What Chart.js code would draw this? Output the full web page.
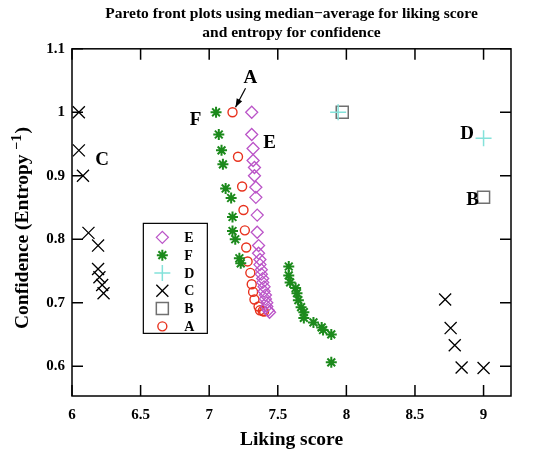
<!DOCTYPE html>
<html>
<head>
<meta charset="utf-8">
<script src="https://cdn.jsdelivr.net/npm/chart.js@4/dist/chart.umd.min.js"></script>
<style>
  html, body { margin: 0; padding: 0; background: #fff; }
  #wrap { width: 542px; height: 457px; }
</style>
</head>
<body>
<div id="wrap"><canvas id="myChart" width="542" height="457"></canvas></div>
<script>
// pareto fronts, x = liking score, y = confidence (1/entropy)
var seriesE = [[7.31,1.0],[7.31,0.965],[7.32,0.943],[7.32,0.924],[7.33,0.913],[7.33,0.90],[7.34,0.882],[7.34,0.866],
    [7.35,0.838],[7.35,0.811],[7.36,0.79],[7.36,0.778],[7.37,0.768],[7.37,0.76],[7.38,0.752],[7.38,0.745],[7.39,0.738],
    [7.39,0.732],[7.40,0.725],[7.40,0.718],[7.41,0.712],[7.41,0.706],[7.42,0.70],[7.42,0.694],[7.43,0.688],[7.44,0.685]];
var seriesF = [[7.05,1.0],[7.07,0.965],[7.09,0.94],[7.10,0.918],[7.12,0.88],[7.16,0.865],[7.17,0.835],[7.17,0.813],
    [7.19,0.80],[7.22,0.77],[7.23,0.762],[7.58,0.757],[7.58,0.743],[7.59,0.732],[7.63,0.723],[7.64,0.715],[7.65,0.704],
    [7.67,0.693],[7.69,0.685],[7.69,0.676],[7.76,0.669],[7.82,0.661],[7.83,0.657],[7.89,0.65],[7.89,0.606]];
var seriesD = [[7.94,1.0],[9.0,0.959]];
var seriesC = [[6.05,1.0],[6.05,0.94],[6.08,0.90],[6.12,0.81],[6.19,0.79],[6.19,0.753],[6.20,0.74],[6.22,0.728],[6.23,0.715],
    [8.72,0.705],[8.76,0.66],[8.79,0.633],[8.84,0.598],[9.0,0.597]];
var seriesB = [[7.97,1.0],[9.0,0.866]];
var seriesA = [[7.17,1.0],[7.21,0.93],[7.24,0.883],[7.25,0.846],[7.26,0.814],[7.27,0.787],[7.28,0.765],[7.30,0.747],
    [7.31,0.729],[7.32,0.717],[7.33,0.705],[7.36,0.694],[7.37,0.688],[7.39,0.687],[7.40,0.686]];

var xTicks = [6, 6.5, 7, 7.5, 8, 8.5, 9];
var yTicks = [0.6, 0.7, 0.8, 0.9, 1.0, 1.1];

// text labels next to each front, [text, x, y]
var frontLabels = [['F', 6.90, 0.987], ['E', 7.44, 0.951], ['C', 6.22, 0.924], ['D', 8.88, 0.965], ['B', 8.92, 0.861], ['A', 7.30, 1.054]];

var serif = "'Liberation Serif', 'DejaVu Serif', serif";

function toPts(arr) {
    return arr.map(function (p) { return { x: p[0], y: p[1] }; });
}

var datasets = [
    { label: 'E', data: toPts(seriesE), pointStyle: 'rectRot', radius: 6, borderColor: '#bb55c8', borderWidth: 1.3 },
    { label: 'F', data: toPts(seriesF), pointStyle: 'star', radius: 5.5, borderColor: '#1c8a1c', borderWidth: 2 },
    { label: 'D', data: toPts(seriesD), pointStyle: 'cross', radius: 8, borderColor: '#84e2da', borderWidth: 1.5 },
    { label: 'C', data: toPts(seriesC), pointStyle: 'crossRot', radius: 8.5, borderColor: '#000000', borderWidth: 1.3 },
    { label: 'B', data: toPts(seriesB), pointStyle: 'rect', radius: 8.5, borderColor: '#707070', borderWidth: 1.5 },
    { label: 'A', data: toPts(seriesA), pointStyle: 'circle', radius: 4.5, borderColor: '#e8321e', borderWidth: 1.4 }
];
datasets.forEach(function (d) {
    d.backgroundColor = 'rgba(0,0,0,0)';
    d.pointRadius = d.radius;
    d.pointHoverRadius = d.radius;
    d.showLine = false;
});

function drawMarker(ctx, ds, x, y) {
    ctx.save();
    ctx.strokeStyle = ds.borderColor;
    ctx.fillStyle = 'rgba(0,0,0,0)';
    ctx.lineWidth = ds.borderWidth;
    Chart.helpers.drawPoint(ctx, { pointStyle: ds.pointStyle, radius: ds.radius, rotation: 0, borderWidth: ds.borderWidth }, x, y);
    ctx.restore();
}

var framePlugin = {
    id: 'frame',
    afterDraw: function (chart) {
        var ctx = chart.ctx;
        var a = chart.chartArea;
        var xs = chart.scales.x, ys = chart.scales.y;
        ctx.save();
        ctx.strokeStyle = '#000';
        ctx.lineWidth = 1.5;
        ctx.strokeRect(a.left, a.top, a.right - a.left, a.bottom - a.top);
        // inward ticks on all sides
        var tl = 11;
        ctx.beginPath();
        xTicks.forEach(function (v) {
            var px = xs.getPixelForValue(v);
            ctx.moveTo(px, a.bottom); ctx.lineTo(px, a.bottom - tl);
            ctx.moveTo(px, a.top); ctx.lineTo(px, a.top + tl);
        });
        yTicks.forEach(function (v) {
            var py = ys.getPixelForValue(v);
            ctx.moveTo(a.left, py); ctx.lineTo(a.left + tl, py);
            ctx.moveTo(a.right, py); ctx.lineTo(a.right - tl, py);
        });
        ctx.stroke();

        // y axis title with superscript -1
        ctx.save();
        ctx.translate(21, 329);
        ctx.rotate(-Math.PI / 2);
        ctx.fillStyle = '#000';
        ctx.textAlign = 'left';
        ctx.textBaseline = 'alphabetic';
        ctx.font = 'bold 19.5px ' + serif;
        var t1 = 'Confidence (Entropy ';
        ctx.fillText(t1, 0, 7);
        var w1 = ctx.measureText(t1).width;
        ctx.font = 'bold 14px ' + serif;
        ctx.fillText('\u22121', w1, 0);
        var w2 = ctx.measureText('\u22121').width;
        ctx.font = 'bold 19.5px ' + serif;
        ctx.fillText(')', w1 + w2 + 1, 7);
        ctx.restore();

        // front labels
        ctx.fillStyle = '#000';
        ctx.font = 'bold 19px ' + serif;
        ctx.textAlign = 'center';
        ctx.textBaseline = 'middle';
        frontLabels.forEach(function (l) {
            ctx.fillText(l[0], xs.getPixelForValue(l[1]), ys.getPixelForValue(l[2]));
        });

        // arrow from A label to first A point
        var x0 = xs.getPixelForValue(7.265), y0 = ys.getPixelForValue(1.038);
        var x1 = xs.getPixelForValue(seriesA[0][0]) + 3, y1 = ys.getPixelForValue(seriesA[0][1]) - 5;
        ctx.lineWidth = 1.2;
        ctx.beginPath();
        ctx.moveTo(x0, y0); ctx.lineTo(x1, y1);
        ctx.stroke();
        var ang = Math.atan2(y1 - y0, x1 - x0);
        ctx.beginPath();
        ctx.moveTo(x1, y1);
        ctx.lineTo(x1 - 9 * Math.cos(ang - 0.35), y1 - 9 * Math.sin(ang - 0.35));
        ctx.lineTo(x1 - 9 * Math.cos(ang + 0.35), y1 - 9 * Math.sin(ang + 0.35));
        ctx.closePath();
        ctx.fill();

        // legend box
        var lx = xs.getPixelForValue(6.52), ly = ys.getPixelForValue(0.825);
        var rowH = 17.8;
        ctx.lineWidth = 1.2;
        ctx.strokeRect(lx, ly, 64, 110);
        ctx.font = 'bold 14px ' + serif;
        ctx.textAlign = 'left';
        datasets.forEach(function (ds, i) {
            var cy = ly + 14 + i * rowH;
            drawMarker(ctx, ds, lx + 19, cy);
            ctx.fillStyle = '#000';
            ctx.fillText(ds.label, lx + 41, cy + 1);
        });
        ctx.restore();
    }
};

var ctx = document.getElementById('myChart');
var myChart = new Chart(ctx, {
    type: 'scatter',
    data: { datasets: datasets },
    options: {
        responsive: false,
        animation: false,
        layout: { padding: { right: 31 } },
        plugins: {
            legend: { display: false },
            tooltip: { enabled: false },
            title: {
                display: true,
                fullSize: false,
                text: ['Pareto front plots using median\u2212average for liking score', 'and entropy for confidence'],
                color: '#000',
                font: { family: serif, size: 15.5, weight: 'bold', lineHeight: 1.22 },
                padding: { top: 5, bottom: 6 }
            }
        },
        scales: {
            x: {
                type: 'linear',
                min: 6,
                max: 9.2,
                afterBuildTicks: function (s) { s.ticks = xTicks.map(function (v) { return { value: v }; }); },
                afterFit: function (s) { s.height = 61; },
                grid: { display: false, drawTicks: false },
                border: { display: false },
                ticks: {
                    padding: 10,
                    color: '#000',
                    font: { family: serif, size: 15, weight: 'bold' },
                    maxRotation: 0,
                    callback: function (v) { return String(+Number(v).toFixed(2)); }
                },
                title: {
                    display: true,
                    text: 'Liking score',
                    color: '#000',
                    font: { family: serif, size: 19.5, weight: 'bold' },
                    padding: { top: 0, bottom: 5 }
                }
            },
            y: {
                type: 'linear',
                min: 0.553,
                max: 1.1,
                afterBuildTicks: function (s) { s.ticks = yTicks.map(function (v) { return { value: v }; }); },
                afterFit: function (s) { s.width = 72; },
                grid: { display: false, drawTicks: false },
                border: { display: false },
                ticks: {
                    padding: 7,
                    color: '#000',
                    font: { family: serif, size: 15, weight: 'bold' },
                    callback: function (v) { return String(+Number(v).toFixed(2)); }
                },
                title: { display: false }
            }
        }
    },
    plugins: [framePlugin]
});
</script>
</body>
</html>
